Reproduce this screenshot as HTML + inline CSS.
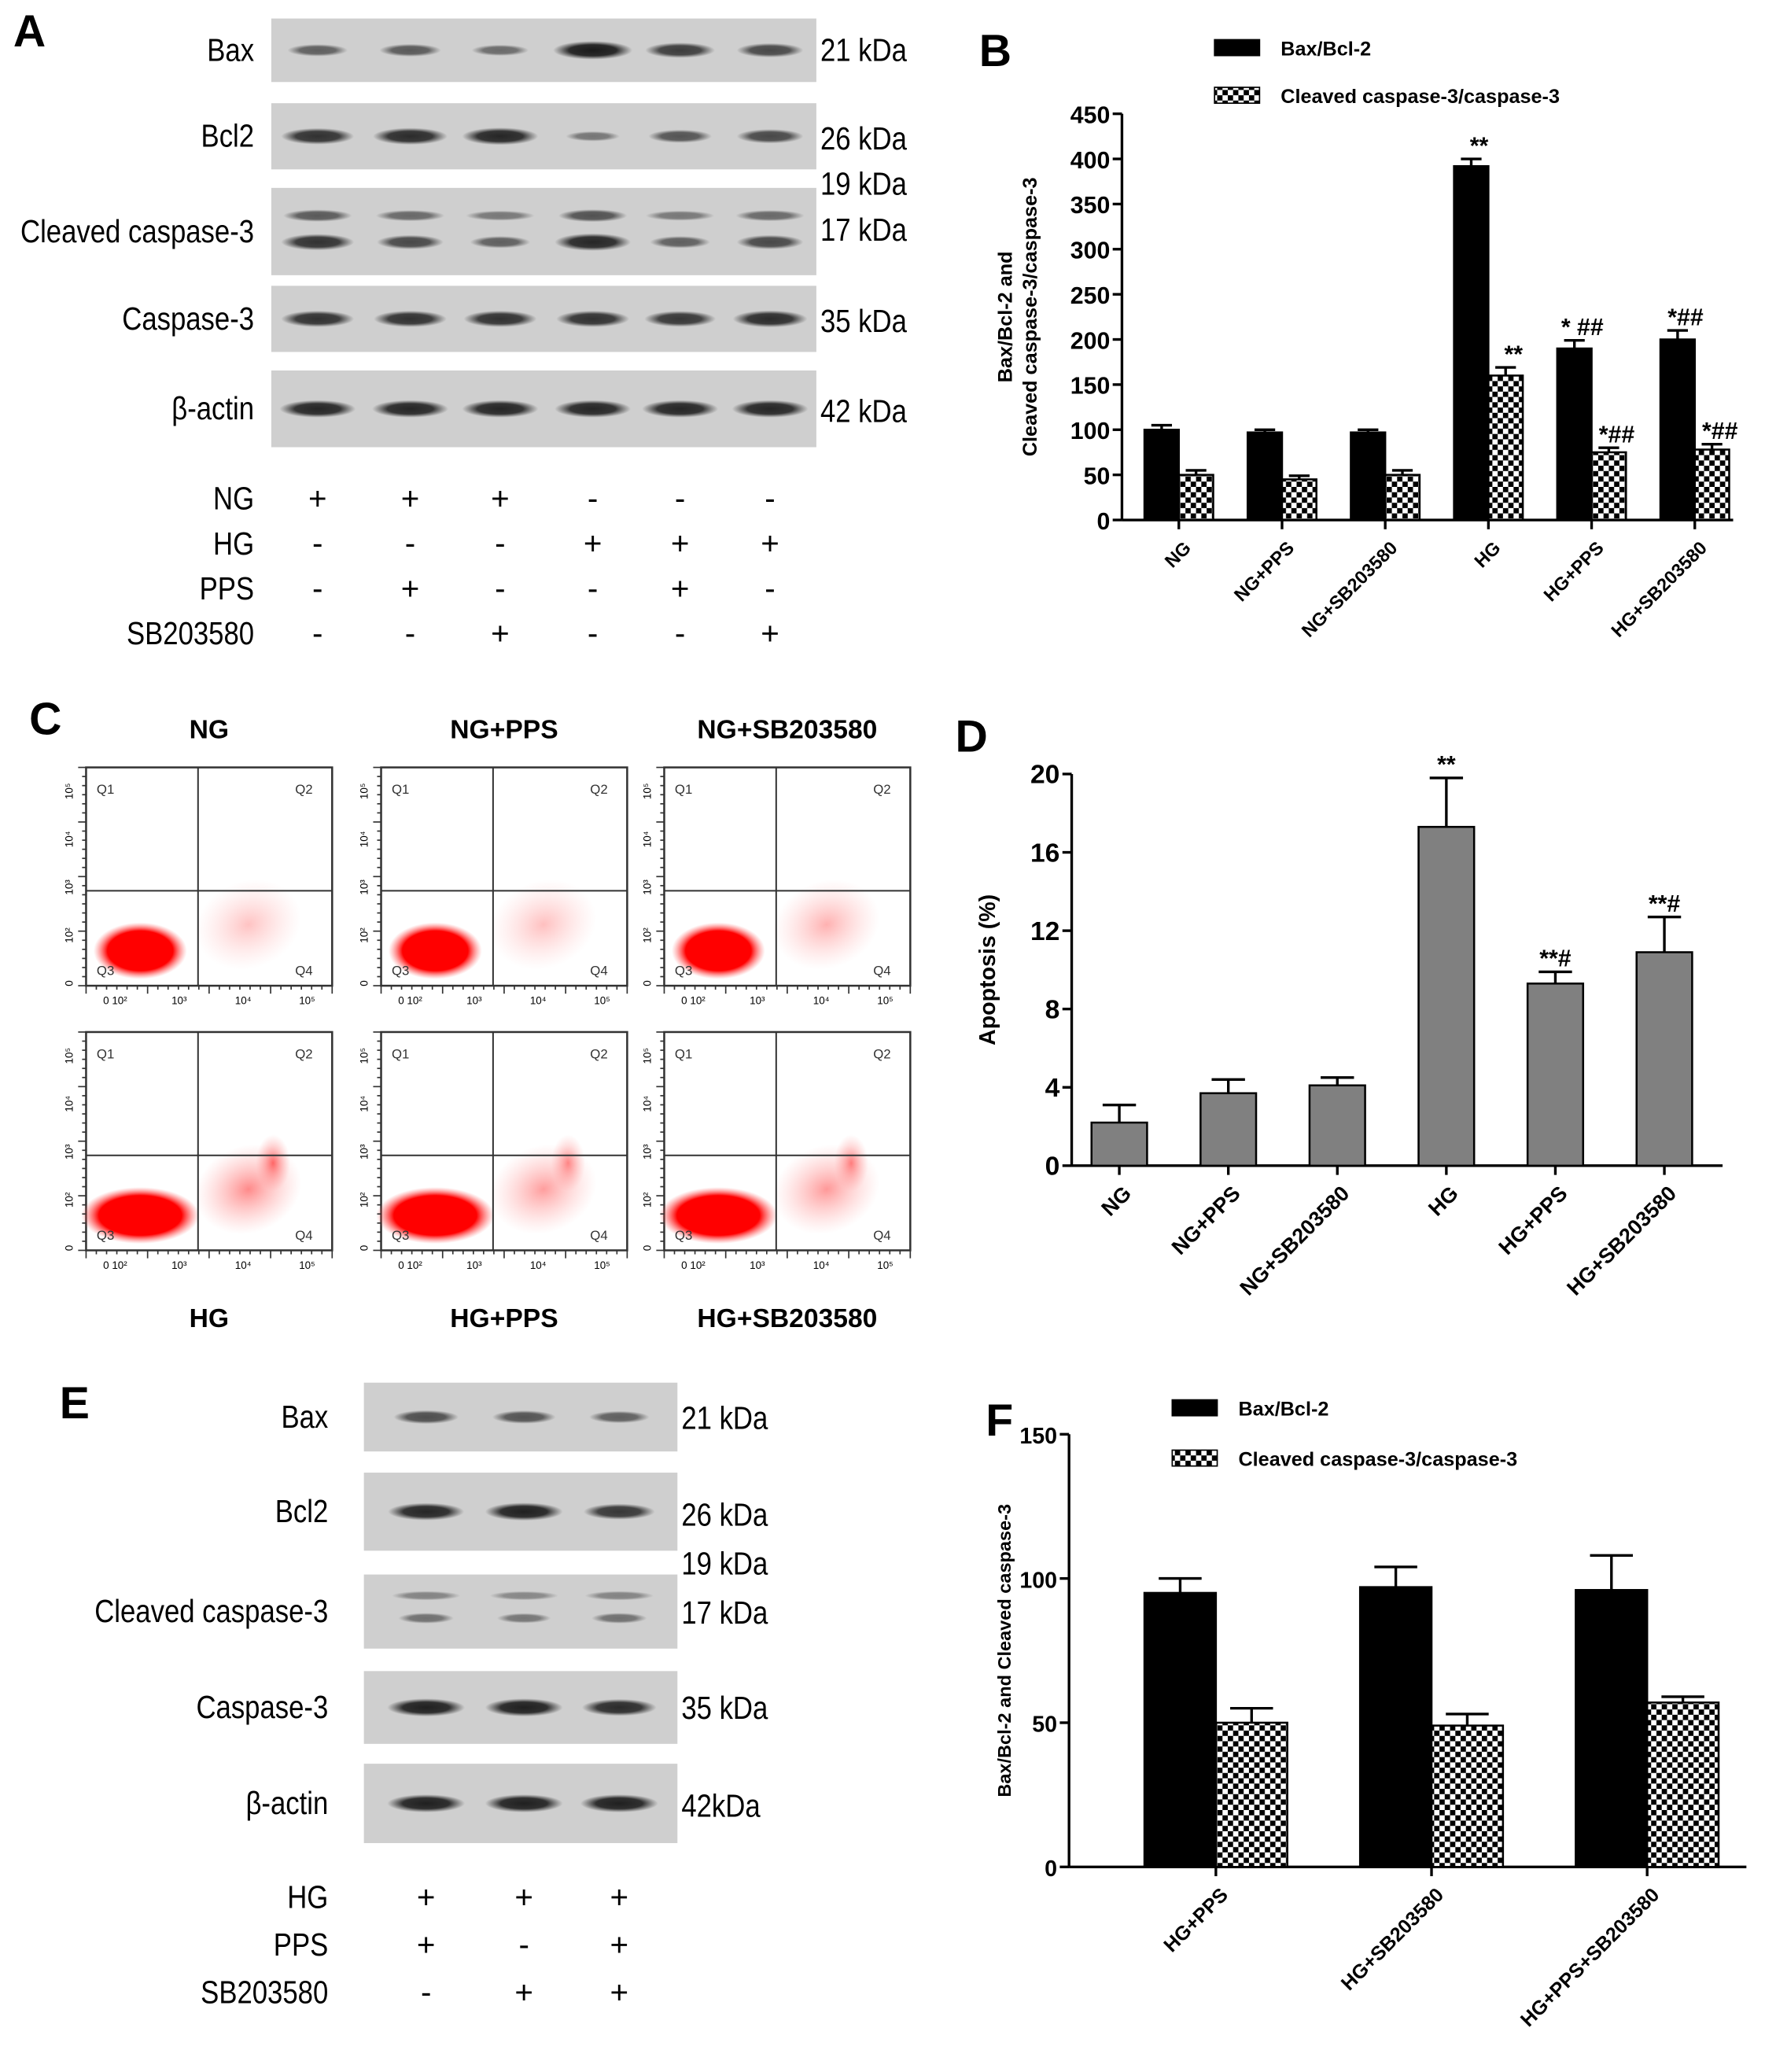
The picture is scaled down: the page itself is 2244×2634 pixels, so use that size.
<!DOCTYPE html>
<html><head><meta charset="utf-8"><style>
html,body{margin:0;padding:0;background:#fff}
svg{display:block}
text{font-family:"Liberation Sans",sans-serif}
</style></head><body>
<svg id="fig" width="2244" height="2634" viewBox="0 0 1334 1566" xmlns="http://www.w3.org/2000/svg">
<defs>
<pattern id="chk" width="8" height="8" patternUnits="userSpaceOnUse"><rect width="8" height="8" fill="#fff"/><rect width="4" height="4" fill="#000"/><rect x="4" y="4" width="4" height="4" fill="#000"/></pattern>
<radialGradient id="blob"><stop offset="0" stop-color="#f00"/><stop offset="0.7" stop-color="#f00"/><stop offset="1" stop-color="#f66" stop-opacity="0"/></radialGradient>
<radialGradient id="cloud"><stop offset="0" stop-color="#f33" stop-opacity="0.8"/><stop offset="1" stop-color="#f88" stop-opacity="0"/></radialGradient>
<radialGradient id="band"><stop offset="0" stop-color="#111"/><stop offset="0.6" stop-color="#222"/><stop offset="1" stop-color="#333" stop-opacity="0"/></radialGradient>
</defs>
<g id="root"></g>
</svg>
<script>
// ---------- DATA ----------
const bCats=["NG","NG+PPS","NG+SB203580","HG","HG+PPS","HG+SB203580"];
const bBax=[100,97,97,392,190,200];
const bBaxErr=[5,3,3,8,9,10];
const bCas=[50,45,50,160,75,78];
const bCasErr=[5,4,5,9,5,6];
const bBaxSig=["","","","**","* ##","*##"];
const bCasSig=["","","","**","*##","*##"];
const bTicks=[0,50,100,150,200,250,300,350,400,450];
const dCats=["NG","NG+PPS","NG+SB203580","HG","HG+PPS","HG+SB203580"];
const dVals=[2.2,3.7,4.1,17.3,9.3,10.9];
const dErr=[0.9,0.7,0.4,2.5,0.6,1.8];
const dSig=["","","","**","**#","**#"];
const dTicks=[0,4,8,12,16,20];
const fCats=["HG+PPS","HG+SB203580","HG+PPS+SB203580"];
const fBax=[95,97,96];
const fBaxErr=[5,7,12];
const fCas=[50,49,57];
const fCasErr=[5,4,2];
const fTicks=[0,50,100,150];
const flowTitles=["NG","NG+PPS","NG+SB203580","HG","HG+PPS","HG+SB203580"];
const flowQ2=[0.12,0.15,0.3,0.7,0.5,0.55];

const NS="http://www.w3.org/2000/svg";
const root=document.getElementById('root');
function mk(tag,attrs,parent,txt){const e=document.createElementNS(NS,tag);for(const k in attrs)e.setAttribute(k,attrs[k]);if(txt!==undefined)e.textContent=txt;(parent||root).appendChild(e);return e;}
function grp(name){const g=mk('g',{});return g;}
function ntext(x,y,anchor,fs,parent,txt){return mk('text',{transform:`translate(${x},${y}) scale(0.86,1)`,x:0,y:0,'text-anchor':anchor,'font-size':fs},parent,txt);}

[["A",10,35],["B",740,50],["C",22,555],["D",722,568],["E",45,1072],["F",745,1085]].forEach(p=>{
 const t=mk('text',{x:p[1],y:p[2],'font-size':34,'font-weight':'bold'},root,p[0]);
 
 
});

// ---------- western blots ----------
function blot(name,x0,x1,rows,lanes,tableRows,fs,gap){
 const g=grp(name);
 rows.forEach(r=>{
  const rg=mk('g',{},g);
  
  
  mk('rect',{x:x0,y:r.y0,width:x1-x0,height:r.y1-r.y0,fill:'#cfcfcf'},rg);
  const cy=(r.y0+r.y1)/2;
  lanes.forEach((lx,i)=>{
   const s=r.s[i];
   if(s>0) mk('ellipse',{cx:lx,cy:cy+(r.off||0),rx:30*Math.min(1,0.6+s*0.4),ry:3+4*s,fill:'url(#band)',opacity:Math.min(1,0.35+s*0.6)},rg);
   if(r.two&&s>0) mk('ellipse',{cx:lx,cy:cy-12,rx:26,ry:3+2*s,fill:'url(#band)',opacity:0.3+s*0.4},rg);
  });
  ntext(x0-gap,cy+8,'end',fs,rg,r.label);
  r.kda.forEach(k=>ntext(x1+3,k[1],'start',fs,rg,k[0]));
 });
 tableRows.forEach(tr=>{
  const tg=mk('g',{},g);
  
  
  ntext(x0-gap,tr[1]+8,'end',fs,tg,tr[0]);
  tr[2].forEach((c,i)=>mk('text',{x:lanes[i],y:tr[1]+8,'text-anchor':'middle','font-size':fs},tg,c?'+':'-'));
 });
}
blot('blot-panel-a',205,617,[
 {label:'Bax',y0:14,y1:62,s:[0.4,0.45,0.3,1,0.7,0.6],kda:[['21 kDa',46]]},
 {label:'Bcl2',y0:78,y1:128,s:[0.8,0.85,0.9,0.2,0.5,0.6],kda:[['26 kDa',113],['19 kDa',147]]},
 {label:'Cleaved caspase-3',y0:142,y1:208,s:[0.8,0.6,0.4,0.9,0.4,0.6],off:8,two:true,kda:[['17 kDa',182]]},
 {label:'Caspase-3',y0:216,y1:266,s:[0.8,0.8,0.8,0.8,0.75,0.85],kda:[['35 kDa',251]]},
 {label:'β-actin',y0:280,y1:338,s:[0.9,0.9,0.9,0.9,0.9,0.9],kda:[['42 kDa',319]]}
],[240,310,378,448,514,582],[
 ['NG',377,[1,1,1,0,0,0]],['HG',411,[0,0,0,1,1,1]],['PPS',445,[0,1,0,0,1,0]],['SB203580',479,[0,0,1,0,0,1]]
],24,13);
blot('blot-panel-e',275,512,[
 {label:'Bax',y0:1045,y1:1097,s:[0.55,0.5,0.4],kda:[['21 kDa',1080]]},
 {label:'Bcl2',y0:1113,y1:1172,s:[0.9,0.95,0.75],kda:[['26 kDa',1153],['19 kDa',1190]]},
 {label:'Cleaved caspase-3',y0:1190,y1:1246,s:[0.25,0.2,0.25],two:true,off:5,kda:[['17 kDa',1227]]},
 {label:'Caspase-3',y0:1263,y1:1318,s:[0.95,0.95,0.85],kda:[['35 kDa',1299]]},
 {label:'β-actin',y0:1333,y1:1393,s:[0.95,0.95,0.95],kda:[['42kDa',1373]]}
],[322,396,468],[
 ['HG',1434,[1,1,1]],['PPS',1470,[1,0,1]],['SB203580',1506,[0,1,1]]
],24,27);

// ---------- bar chart helper ----------
function barChart(o){
 const g=grp(o.name);
 const y=v=>o.y0-(v-o.tmin)/(o.tmax-o.tmin)*(o.y0-o.y1);
 const ax=mk('g',{},g);
 mk('line',{x1:o.x0,y1:o.y0,x2:o.x0,y2:o.y1,stroke:'#000','stroke-width':2},ax);
 o.ticks.forEach(t=>{mk('line',{x1:o.x0-7,y1:y(t),x2:o.x0,y2:y(t),stroke:'#000','stroke-width':2},ax);
  mk('text',{x:o.x0-9,y:y(t)+7,'text-anchor':'end','font-size':o.tfs,'font-weight':'bold'},ax,String(t));});
 const xa=mk('g',{},g);
 mk('line',{x1:o.x0,y1:o.y0,x2:o.xEnd,y2:o.y0,stroke:'#000','stroke-width':2},xa);
 const tt=mk('text',{transform:`translate(${o.titleX},${(o.y0+o.y1)/2}) rotate(-90)`,'text-anchor':'middle','font-size':o.titleFs,'font-weight':'bold'},g);
 
 o.title.forEach((l,i)=>mk('tspan',{x:0,dy:i?o.titleFs*1.25:-(o.title.length-1)*o.titleFs*0.62},tt,l));
 o.cats.forEach((c,i)=>{
  const cx=o.cx0+i*o.step;
  o.series.forEach((s,k)=>{
   const bx=cx+(k-o.series.length/2)*o.bw;
   const v=s.vals[i];
   const b=mk('rect',{x:bx,y:y(v),width:o.bw,height:o.y0-y(v),fill:s.fill,stroke:'#000','stroke-width':1.5},g);
   
   
   const ex=bx+o.bw/2,ey=y(v+s.err[i]);
   mk('line',{x1:ex,y1:y(v),x2:ex,y2:ey,stroke:'#000','stroke-width':2},g);
   mk('line',{x1:ex-o.bw*0.3,y1:ey,x2:ex+o.bw*0.3,y2:ey,stroke:'#000','stroke-width':2},g);
   if(s.sig&&s.sig[i]) mk('text',{x:ex+(o.sigDx||0),y:ey-4,'text-anchor':'middle','font-size':o.sigFs,'font-weight':'bold'},g,s.sig[i]);
  });
  mk('line',{x1:cx,y1:o.y0,x2:cx,y2:o.y0+7,stroke:'#000','stroke-width':2},xa);
  mk('text',{transform:`translate(${cx+10},${o.y0+22}) rotate(-45)`,'text-anchor':'end','font-size':o.lfs,'font-weight':'bold'},xa,c);
 });
 (o.legend||[]).forEach((L,i)=>{
  const lg=mk('g',{},g);
  mk('rect',{x:o.lx,y:o.ly+i*o.lgap-6,width:34,height:12,fill:L.fill,stroke:'#000'},lg);
  mk('text',{x:o.lx+50,y:o.ly+i*o.lgap+6,'font-size':15,'font-weight':'bold'},lg,L.text);
 });
}
barChart({name:'chart-b',x0:848,y0:393,y1:86,tmin:0,tmax:450,ticks:bTicks,xEnd:1310,cats:bCats,cx0:891,step:78,bw:26,
 series:[{key:'bax-bcl2',vals:bBax,err:bBaxErr,fill:'#000',sig:bBaxSig},{key:'cleaved-caspase',vals:bCas,err:bCasErr,fill:'url(#chk)',sig:bCasSig}],
 tfs:18,lfs:14,sigFs:18,sigDx:6,title:['Bax/Bcl-2 and','Cleaved caspase-3/caspase-3'],titleX:774,titleFs:15,
 legend:[{key:'bax-bcl2',fill:'#000',text:'Bax/Bcl-2'},{key:'cleaved-caspase',fill:'url(#chk)',text:'Cleaved caspase-3/caspase-3'}],lx:918,ly:36,lgap:36});
barChart({name:'chart-d',x0:810,y0:881,y1:585,tmin:0,tmax:20,ticks:dTicks,xEnd:1302,cats:dCats,cx0:846,step:82.4,bw:42,
 series:[{key:'apoptosis',vals:dVals,err:dErr,fill:'#808080',sig:dSig}],
 tfs:20,lfs:16,sigFs:18,title:['Apoptosis (%)'],titleX:752,titleFs:17});
barChart({name:'chart-f',x0:808,y0:1411,y1:1084,tmin:0,tmax:150,ticks:fTicks,xEnd:1320,cats:fCats,cx0:919,step:163,bw:54,
 series:[{key:'bax-bcl2',vals:fBax,err:fBaxErr,fill:'#000'},{key:'cleaved-caspase',vals:fCas,err:fCasErr,fill:'url(#chk)'}],
 tfs:17,lfs:15,sigFs:18,title:['Bax/Bcl-2 and Cleaved caspase-3'],titleX:764,titleFs:14,
 legend:[{key:'bax-bcl2',fill:'#000',text:'Bax/Bcl-2'},{key:'cleaved-caspase',fill:'url(#chk)',text:'Cleaved caspase-3/caspase-3'}],lx:886,ly:1064,lgap:38});

// ---------- flow cytometry ----------
const flowPos=[[65,580],[288,580],[502,580],[65,780],[288,780],[502,780]];
const fg=grp('flow-cytometry-panel-c');
flowTitles.forEach((t,i)=>{
 const [x,y]=flowPos[i],w=186,h=165;
 const g=mk('g',{},fg);
 
 
 mk('rect',{x:x,y:y,width:w,height:h,fill:'#fff',stroke:'#333','stroke-width':1.5},g);
 const qx=x+w*0.455,qy=y+h*0.565;
 const d=flowQ2[i];
 mk('ellipse',{cx:x+w*0.66,cy:y+h*0.72,rx:w*0.22,ry:h*0.2,fill:'url(#cloud)',opacity:0.3+d*0.6,transform:`rotate(-20 ${x+w*0.66} ${y+h*0.72})`},g);
 if(d>0.4) mk('ellipse',{cx:x+w*0.76,cy:y+h*0.6,rx:w*0.07,ry:h*0.13,fill:'url(#cloud)',opacity:d+0.2},g);
 mk('ellipse',{cx:x+w*0.22,cy:y+h*0.84,rx:w*(i<3?0.19:0.24),ry:h*0.13,fill:'url(#blob)'},g);
 mk('line',{x1:qx,y1:y,x2:qx,y2:y+h,stroke:'#333','stroke-width':1.2},g);
 mk('line',{x1:x,y1:qy,x2:x+w,y2:qy,stroke:'#333','stroke-width':1.2},g);
 [['Q1',x+8,y+20],['Q2',x+w-28,y+20],['Q3',x+8,y+h-8],['Q4',x+w-28,y+h-8]].forEach(q=>mk('text',{x:q[1],y:q[2],'font-size':10,fill:'#333'},g,q[0]));
 for(let k=0;k<=24;k++){const ty=y+k*h/24;mk('line',{x1:x-(k%6===0?6:3),y1:ty,x2:x,y2:ty,stroke:'#333'},g);
  const tx=x+k*w/24;mk('line',{x1:tx,y1:y+h,x2:tx,y2:y+h+(k%6===0?6:3),stroke:'#333'},g);}
 ['10⁵','10⁴','10³','10²','0'].forEach((l,k)=>mk('text',{transform:`translate(${x-10},${y+18+k*h*0.22}) rotate(-90)`,'font-size':8,'text-anchor':'middle'},g,l));
 ['0 10²','10³','10⁴','10⁵'].forEach((l,k)=>mk('text',{x:x+22+k*w*0.26,y:y+h+14,'font-size':8,'text-anchor':'middle'},g,l));
 mk('text',{x:x+w/2,y:i<3?y-22:y+h+58,'text-anchor':'middle','font-size':20,'font-weight':'bold'},g,t);
});
</script>
</body></html>
